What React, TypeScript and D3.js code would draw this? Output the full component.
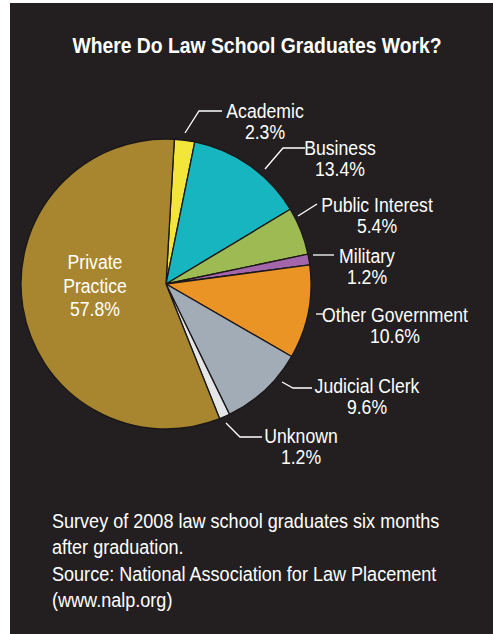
import React from 'react';
import * as d3 from 'd3';

const categories = ['Academic', 'Business', 'Public Interest', 'Military', 'Other Government', 'Judicial Clerk', 'Unknown', 'Private Practice'];
const shares = [2.3, 13.4, 5.4, 1.2, 10.6, 9.6, 1.2, 57.8];
const shareLabels = ['2.3%', '13.4%', '5.4%', '1.2%', '10.6%', '9.6%', '1.2%', '57.8%'];
const sliceColors = ['#F4E53B', '#16B5C0', '#9DBB52', '#A366AA', '#EB9426', '#A2ACB6', '#E4E6E8', '#A8862F'];
const title = 'Where Do Law School Graduates Work?';
const footnote = [
  'Survey of 2008 law school graduates six months',
  'after graduation.',
  'Source: National Association for Law Placement',
  '(www.nalp.org)',
];

// label layout (annotation positions, not data)
const labelLayout: { x: number; y: number; lh: number; lines?: string[]; leader: number[][] }[] = [
  { x: 265, y: 118, lh: 21, leader: [[185, 133], [199, 111], [222, 111]] },
  { x: 340, y: 155, lh: 21, leader: [[265, 169], [283, 148], [305, 148]] },
  { x: 377, y: 212, lh: 21, leader: [[298, 216], [317, 204]] },
  { x: 367, y: 263, lh: 21, leader: [[313, 255], [334, 255]] },
  { x: 395, y: 322, lh: 21, leader: [[316, 314], [323, 314]] },
  { x: 367, y: 393, lh: 21, leader: [[282, 382], [293, 388], [312, 388]] },
  { x: 301, y: 443, lh: 21, leader: [[226, 423], [240, 437], [262, 437]] },
  { x: 95, y: 269, lh: 23.5, lines: ['Private', 'Practice'], leader: [] },
];

const W = 493;
const H = 634;
const cx = 166;
const cy = 284;
const R = 145;
const FONT = '"Liberation Sans", Arial, sans-serif';
const SX = 0.84;

export default function App() {
  const start = (3.3 * Math.PI) / 180;
  const pie = d3.pie<number>().sort(null).startAngle(start).endAngle(start + 2 * Math.PI);
  const arcs = pie(shares);
  const arc = d3.arc<d3.PieArcDatum<number>>().innerRadius(0).outerRadius(R);
  const line = d3.line();

  return (
    <svg width={W} height={H} style={{ position: 'absolute', left: 0, top: 0 }} fontFamily={FONT}>
      <rect x={0} y={0} width={W} height={H} fill="#fff" />
      <rect x={10} y={3} width={W - 10} height={H - 3} fill="#231F20" />
      <text transform={`translate(257,53) scale(0.86,1)`} textAnchor="middle" fill="#fff" fontWeight="bold" fontSize={22.5}>
        {title}
      </text>
      <g transform={`translate(${cx},${cy})`}>
        {arcs.map((a, i) => (
          <path key={i} d={arc(a) || ''} fill={sliceColors[i]} stroke="#1a1718" strokeWidth={1.3} strokeLinejoin="round" />
        ))}
      </g>
      {labelLayout.map((l, i) => {
        const lines = l.lines ? [...l.lines, shareLabels[i]] : [categories[i], shareLabels[i]];
        return (
          <g key={i}>
            {l.leader.length > 0 && (
              <path d={line(l.leader as [number, number][]) || ''} fill="none" stroke="#fff" strokeWidth={1.3} />
            )}
            {lines.map((t, j) => (
              <text
                key={j}
                transform={`translate(${l.x},${l.y + j * l.lh}) scale(${SX},1)`}
                textAnchor="middle"
                fill="#fff"
                fontSize={21}
              >
                {t}
              </text>
            ))}
          </g>
        );
      })}
      {footnote.map((t, i) => (
        <text key={i} transform={`translate(52,${528 + i * 26.3}) scale(0.86,1)`} fill="#fff" fontSize={21}>
          {t}
        </text>
      ))}
    </svg>
  );
}
